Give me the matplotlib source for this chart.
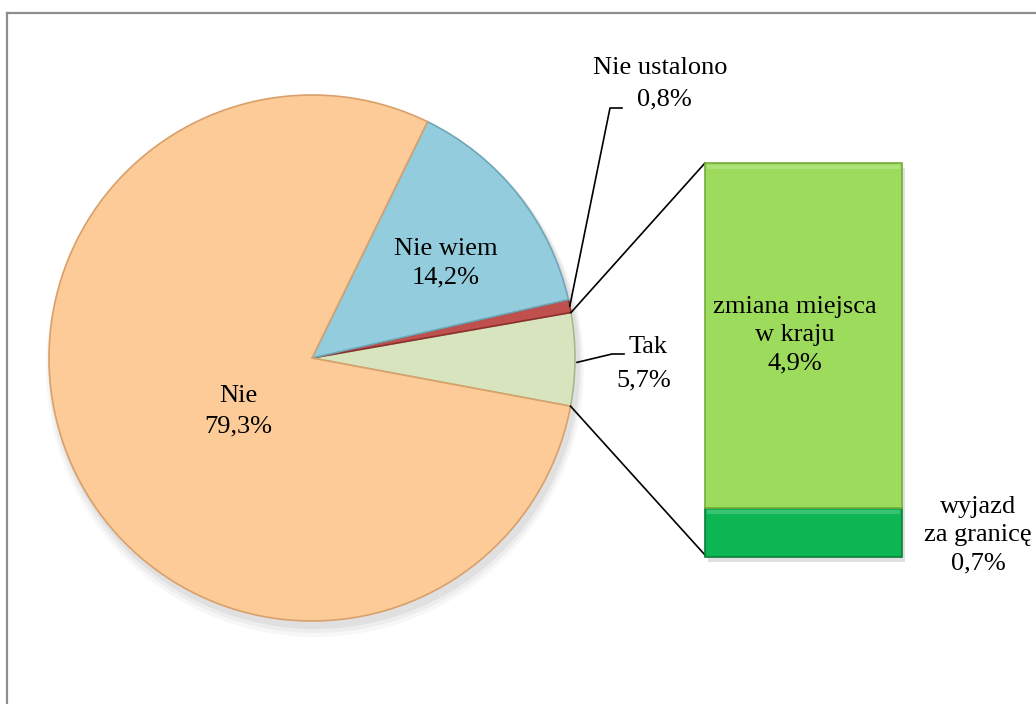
import numpy as np
import matplotlib
matplotlib.use("Agg")
import matplotlib.pyplot as plt
from matplotlib.patches import Rectangle

# pie data (order: counter-clockwise starting from the "Tak" slice)
pie_labels = ["Tak", "Nie ustalono", "Nie wiem", "Nie"]
pie_values = [5.7, 0.8, 14.2, 79.3]
pie_text = ["5,7%", "0,8%", "14,2%", "79,3%"]
pie_colors = ["#D7E4BD", "#C0504D", "#93CDDD", "#FCCB98"]
pie_edges = ["#A9B88C", "#8C2F2D", "#6FA6B6", "#D9A06A"]

# breakdown of "Tak"
bar_labels = ["wyjazd\nza granicę", "zmiana miejsca\nw kraju"]
bar_values = [0.7, 4.9]
bar_text = ["0,7%", "4,9%"]
bar_colors = ["#0DB553", "#9CDB5C"]
bar_edges = ["#07803A", "#74AC3C"]

plt.rcParams["font.family"] = ["Liberation Serif", "DejaVu Serif"]

W, H = 1036, 704
fig = plt.figure(figsize=(W / 100, H / 100), dpi=100)
ax = fig.add_axes([0, 0, 1, 1])

# frame (continues past the right and bottom edges)
ax.plot([7, W + 5], [H - 13, H - 13], color="#8E8E8E", lw=1.6)
ax.plot([7, 7], [H - 13, -5], color="#8E8E8E", lw=1.6)

cx, cy, r = 312, H - 358, 263
start = -pie_values[0] / 100 * 360 / 2 - 0.3

# soft shadow
for k, a in enumerate([0.05, 0.04, 0.03]):
    sh = plt.Circle((cx + 3, cy - 6 - k * 2), r + 2 + k * 2, color="black", alpha=a, lw=0)
    ax.add_patch(sh)

wedges, _ = ax.pie(pie_values, colors=pie_colors, startangle=start, counterclock=True,
                   center=(cx, cy), radius=r, frame=True,
                   wedgeprops=dict(linewidth=1.2))
for w, ec in zip(wedges, pie_edges):
    w.set_edgecolor(ec)
ax.set_xlim(0, W)
ax.set_ylim(0, H)
ax.set_aspect("equal")
ax.axis("off")

fs = 19
ls = 1.38
# inner labels
ax.text(238, H - 411, "Nie\n" + pie_text[3], ha="center", va="center", fontsize=fs, linespacing=1.5)
ax.text(446, H - 263, "Nie wiem\n" + pie_text[2], ha="center", va="center", fontsize=fs, linespacing=ls)

# "Nie ustalono" with leader
w_nu = wedges[1]
ang = np.deg2rad((w_nu.theta1 + w_nu.theta2) / 2)
ax.plot([cx + r * np.cos(ang), 610, 622], [cy + r * np.sin(ang), H - 108, H - 108], color="black", lw=1.2)
ax.text(660, H - 68, pie_labels[1], ha="center", va="center", fontsize=fs)
ax.text(664, H - 99, pie_text[1], ha="center", va="center", fontsize=fs)

# "Tak" with leader
w_t = wedges[0]
ang = np.deg2rad((w_t.theta1 + w_t.theta2) / 2)
ax.plot([cx + r * np.cos(ang) + 2, 612, 624], [cy + r * np.sin(ang) - 3, H - 354, H - 354], color="black", lw=1.2)
ax.text(648, H - 347, pie_labels[0], ha="center", va="center", fontsize=fs)
ax.text(644, H - 380, pie_text[0], ha="center", va="center", fontsize=fs)

# stacked bar of "Tak"
bx0, bx1 = 705, 902
by0, by1 = H - 557, H - 163
scale = (by1 - by0) / sum(bar_values)
bottom = by0
for v, c, ec in zip(bar_values, bar_colors, bar_edges):
    ax.bar((bx0 + bx1) / 2, v * scale, width=bx1 - bx0, bottom=bottom,
           color=c, edgecolor=ec, linewidth=1.2, zorder=3)
    # bevel highlight
    ax.add_patch(Rectangle((bx0 + 2, bottom + v * scale - 6), bx1 - bx0 - 4, 4,
                           color="white", alpha=0.18, lw=0, zorder=4))
    bottom += v * scale
# bar shadow
ax.add_patch(Rectangle((bx0 + 3, by0 - 5), bx1 - bx0, by1 - by0, color="black",
                       alpha=0.12, lw=0, zorder=2))

ax.text(795, H - 335, bar_labels[1] + "\n" + bar_text[1], ha="center", va="center",
        fontsize=fs, linespacing=ls, zorder=5)
ax.text(978, H - 535, bar_labels[0] + "\n" + bar_text[0], ha="center", va="center",
        fontsize=fs, linespacing=ls, zorder=5)

# connector lines from the "Tak" slice to the bar
t1, t2 = np.deg2rad(w_t.theta1), np.deg2rad(w_t.theta2)
ax.plot([cx + r * np.cos(t2), bx0], [cy + r * np.sin(t2), by1], color="black", lw=1.2, zorder=1)
ax.plot([cx + r * np.cos(t1), bx0], [cy + r * np.sin(t1), by0 + 2], color="black", lw=1.2, zorder=1)

fig.savefig("out.png", dpi=100)
